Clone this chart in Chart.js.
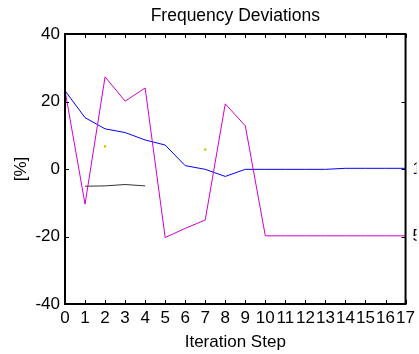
<!DOCTYPE html>
<html>
<head>
<meta charset="utf-8">
<script src="https://cdn.jsdelivr.net/npm/chart.js@4/dist/chart.umd.min.js"></script>
<style>
  html, body { margin: 0; padding: 0; background: #fff; overflow: hidden; }
  #chart { display: block; }
</style>
</head>
<body>
<canvas id="chart" width="419" height="354"></canvas>
<script>
"use strict";

// iteration steps and series
const steps = [0, 1, 2, 3, 4, 5, 6, 7, 8, 9, 10, 11, 12, 13, 14, 15, 16, 17];
const blueDev = [23.2, 15.2, 11.9, 10.8, 8.6, 7.1, 1.0, -0.1, -2.2, -0.1, -0.1, -0.1, -0.1, -0.1, 0.2, 0.2, 0.2, 0.2];
const magentaDev = [23.3, -10.4, 27.3, 20.1, 24.0, -20.3, -17.6, -15.1, 19.3, 12.8, -19.8, -19.8, -19.8, -19.8, -19.8, -19.8, -19.8, -19.8];
const blackSteps = [1, 2, 3, 4];
const blackDev = [-5.1, -5.0, -4.6, -5.0];
const dotSteps = [2, 7];
const dotDev = [6.7, 5.8];

const leftTicks = [40, 20, 0, -20, -40];
const rightTickValues = [20, 0, -20];
const rightTickLabels = ['', '1', '5'];

const FONT = 'Liberation Sans, Arial, Helvetica, sans-serif';

function pts(xs, ys) {
  return xs.map(function(x, i) { return {x: x, y: ys[i]}; });
}

// box and inward ticks like the original figure
const frame = {
  id: 'frame',
  afterDatasetsDraw: function(chart) {
    const ctx = chart.ctx;
    const a = chart.chartArea;
    const xs = chart.scales.x, ys = chart.scales.y, y2 = chart.scales.y2;
    const tl = 4;
    ctx.save();
    ctx.strokeStyle = '#000';
    ctx.lineWidth = 1;
    ctx.beginPath();
    steps.forEach(function(s) {
      const px = Math.round(xs.getPixelForValue(s)) + 0.5;
      ctx.moveTo(px, a.top); ctx.lineTo(px, a.top + tl);
      ctx.moveTo(px, a.bottom); ctx.lineTo(px, a.bottom - tl);
    });
    leftTicks.forEach(function(v) {
      const py = Math.round(ys.getPixelForValue(v)) + 0.5;
      ctx.moveTo(a.left, py); ctx.lineTo(a.left + tl, py);
    });
    rightTickValues.forEach(function(v) {
      const py = Math.round(y2.getPixelForValue(v)) + 0.5;
      ctx.moveTo(a.right, py); ctx.lineTo(a.right - tl, py);
    });
    ctx.stroke();
    ctx.lineWidth = 2;
    ctx.strokeRect(a.left, a.top, a.right - a.left, a.bottom - a.top);
    ctx.restore();
  }
};

const chart = new Chart('chart', {
  type: 'line',
  data: {
    datasets: [
      {data: pts(steps, magentaDev), borderColor: '#d000d0', borderWidth: 1, pointRadius: 0, tension: 0},
      {data: pts(steps, blueDev), borderColor: '#0000ff', borderWidth: 1, pointRadius: 0, tension: 0},
      {data: pts(blackSteps, blackDev), borderColor: '#333333', borderWidth: 1, pointRadius: 0, tension: 0},
      {data: pts(dotSteps, dotDev), showLine: false, pointRadius: 1.3, pointBorderWidth: 0,
       pointBackgroundColor: '#cccc00', borderColor: '#cccc00'}
    ]
  },
  options: {
    responsive: false,
    animation: false,
    layout: {padding: 0},
    plugins: {
      legend: {display: false},
      tooltip: {enabled: false},
      title: {
        display: true,
        text: 'Frequency Deviations',
        fullSize: false,
        color: '#000',
        font: {family: FONT, size: 17.5, weight: 'normal'},
        padding: {top: 6, bottom: 7}
      }
    },
    scales: {
      x: {
        type: 'linear', min: 0, max: 17,
        grid: {display: false, drawTicks: false},
        border: {display: false},
        afterBuildTicks: function(s) { s.ticks = steps.map(function(v) { return {value: v}; }); },
        afterFit: function(s) { s.height = 50; },
        ticks: {autoSkip: false, maxRotation: 0, padding: 4, color: '#000',
                font: {family: FONT, size: 17}},
        title: {display: true, text: 'Iteration Step', color: '#000',
                font: {family: FONT, size: 17}, padding: {top: 0, bottom: 1.5}}
      },
      y: {
        position: 'left', min: -40, max: 40,
        grid: {display: false, drawTicks: false},
        border: {display: false},
        afterBuildTicks: function(s) { s.ticks = leftTicks.map(function(v) { return {value: v}; }); },
        afterFit: function(s) { s.width = 65; },
        ticks: {padding: 5, color: '#000', font: {family: FONT, size: 17}},
        title: {display: true, text: '[%]', color: '#000',
                font: {family: FONT, size: 17}, padding: {top: 11, bottom: 0}}
      },
      y2: {
        position: 'right', min: -40, max: 40,
        grid: {display: false, drawTicks: false},
        border: {display: false},
        afterBuildTicks: function(s) { s.ticks = rightTickValues.map(function(v) { return {value: v}; }); },
        afterFit: function(s) { s.width = 11; },
        ticks: {padding: 7, color: '#000', font: {family: FONT, size: 17},
                callback: function(v) { return rightTickLabels[rightTickValues.indexOf(v)]; }}
      }
    }
  },
  plugins: [frame]
});
</script>
</body>
</html>
